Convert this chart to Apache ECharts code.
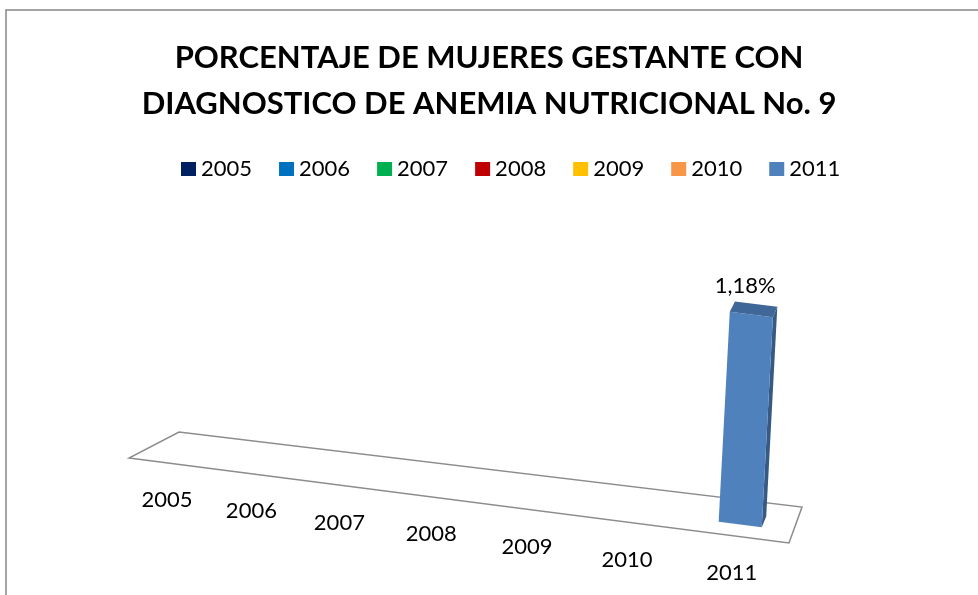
<!DOCTYPE html>
<html><head><meta charset="utf-8">
<script src="https://cdn.jsdelivr.net/npm/echarts@6/dist/echarts.min.js"></script>
<style>html,body{margin:0;padding:0;background:#fff}#c{width:978px;height:595px}</style>
</head><body><div id="c"></div>
<script>
// ---- data ----
const categories = ['2005', '2006', '2007', '2008', '2009', '2010', '2011'];
const values = [null, null, null, null, null, null, 1.18];
const valueLabels = ['', '', '', '', '', '', '1,18%'];
const seriesColors = ['#002060', '#0070C0', '#00B050', '#C00000', '#FFC000', '#F79646', '#4F81BD'];
const titleText = 'PORCENTAJE DE MUJERES GESTANTE CON\nDIAGNOSTICO DE ANEMIA NUTRICIONAL No. 9';

// ---- view (pseudo-3D camera) parameters ----
const FONT = 'Lato, "Open Sans", sans-serif';
const VIEW = {
  slope: 0.1288,          // front edge slope
  depthL: [50, -26],      // depth vector at left end of floor
  depthR: [13, -36],      // depth vector at right end of floor
  persp: 0.86,            // horizontal foreshortening
  lean: 0.053,            // vertical lean of uprights
  barFrac: 0.41,          // bar width as fraction of band
  v0: 0.33, v1: 0.63      // bar depth range on the floor
};

function darken(hex, k) {
  const c = echarts.color.parse(hex);
  return 'rgb(' + [0, 1, 2].map(j => Math.round(c[j] * (1 - k))).join(',') + ')';
}
function proj(cs, t, v, h) {
  const c = VIEW.persp;
  const s = c * t / (1 + (c - 1) * t);
  const x0 = cs.x, y0 = cs.y + cs.height, w = cs.width;
  const fx = x0 + s * w, fy = y0 + s * w * VIEW.slope;
  const dx = VIEW.depthL[0] + (VIEW.depthR[0] - VIEW.depthL[0]) * s;
  const dy = VIEW.depthL[1] + (VIEW.depthR[1] - VIEW.depthL[1]) * s;
  return [fx + v * dx + VIEW.lean * h, fy + v * dy - h];
}

function renderFloor(params, api) {
  const cs = params.coordSys;
  return {
    type: 'polygon',
    shape: { points: [proj(cs, 0, 0, 0), proj(cs, 1, 0, 0), proj(cs, 1, 1, 0), proj(cs, 0, 1, 0)] },
    style: { fill: '#ffffff', stroke: '#8c8c8c', lineWidth: 1.5 }
  };
}

function renderLabel(params, api) {
  const cs = params.coordSys;
  const i = api.value(0);
  const base = api.coord([i, 0]);
  const t = (base[0] - cs.x) / cs.width;
  const p = proj(cs, t, 0, 0);
  return {
    type: 'text',
    x: p[0] - 3, y: p[1] + 37,
    style: { text: categories[i], fill: '#000', font: '22px ' + FONT, align: 'center', verticalAlign: 'middle' }
  };
}

function makeBarRenderer(k) {
  return function (params, api) {
    const cs = params.coordSys;
    const i = api.value(0), val = api.value(1);
    const base = api.coord([i, 0]), top = api.coord([i, val]);
    const h = base[1] - top[1];
    const t = (base[0] - cs.x) / cs.width;
    const hw = api.size([1, 0])[0] / cs.width * VIEW.barFrac / 2;
    const t0 = t - hw, t1 = t + hw, v0 = VIEW.v0, v1 = VIEW.v1;
    const col = seriesColors[k];
    const front = [proj(cs, t0, v0, 0), proj(cs, t1, v0, 0), proj(cs, t1, v0, h), proj(cs, t0, v0, h)];
    const side = [proj(cs, t1, v0, 0), proj(cs, t1, v1, 0), proj(cs, t1, v1, h), proj(cs, t1, v0, h)];
    const topF = [proj(cs, t0, v0, h), proj(cs, t1, v0, h), proj(cs, t1, v1, h), proj(cs, t0, v1, h)];
    const ft = proj(cs, t, v0, h);
    return {
      type: 'group',
      children: [
        { type: 'polygon', shape: { points: side }, style: { fill: darken(col, 0.3) } },
        { type: 'polygon', shape: { points: front }, style: { fill: col } },
        { type: 'polygon', shape: { points: topF }, style: { fill: darken(col, 0.2) } },
        { type: 'text', x: ft[0] - 6, y: ft[1] - 29,
          style: { text: valueLabels[i], fill: '#000', font: '22px ' + FONT, align: 'center', verticalAlign: 'middle' } }
      ]
    };
  };
}

const barSeries = categories.map((name, k) => ({
  type: 'custom',
  name: name,
  coordinateSystem: 'cartesian2d',
  clip: false,
  z: 3,
  itemStyle: { color: seriesColors[k] },
  renderItem: makeBarRenderer(k),
  data: values[k] == null ? [] : [[k, values[k]]]
}));

const chart = echarts.init(document.getElementById('c'), null, { renderer: 'canvas' });
chart.setOption({
  backgroundColor: '#ffffff',
  animation: false,
  title: {
    text: titleText,
    left: 'center',
    top: 30,
    textStyle: { fontFamily: FONT, fontSize: 31, fontWeight: 'bold', color: '#000', lineHeight: 46 }
  },
  legend: {
    data: categories,
    left: 176,
    top: 153,
    icon: 'rect',
    itemWidth: 15,
    itemHeight: 14,
    itemGap: 27,
    textStyle: { fontFamily: FONT, fontSize: 22, color: '#000' }
  },
  grid: { left: 129, right: 189, top: 209, bottom: 137 },
  xAxis: { type: 'category', data: categories, show: false },
  yAxis: { type: 'value', min: 0, max: 1.4, show: false },
  graphic: [{
    type: 'rect', silent: true, z: -1,
    shape: { x: 6, y: 10, width: 1000, height: 700 },
    style: { fill: 'none', stroke: '#868686', lineWidth: 1.5 }
  }],
  series: [
    { type: 'custom', name: 'floor', coordinateSystem: 'cartesian2d', clip: false, z: 1, silent: true,
      renderItem: renderFloor, data: [[0]] },
    { type: 'custom', name: 'labels', coordinateSystem: 'cartesian2d', clip: false, z: 2, silent: true,
      renderItem: renderLabel, data: categories.map((c, i) => [i]) }
  ].concat(barSeries)
});
</script>
</body></html>
